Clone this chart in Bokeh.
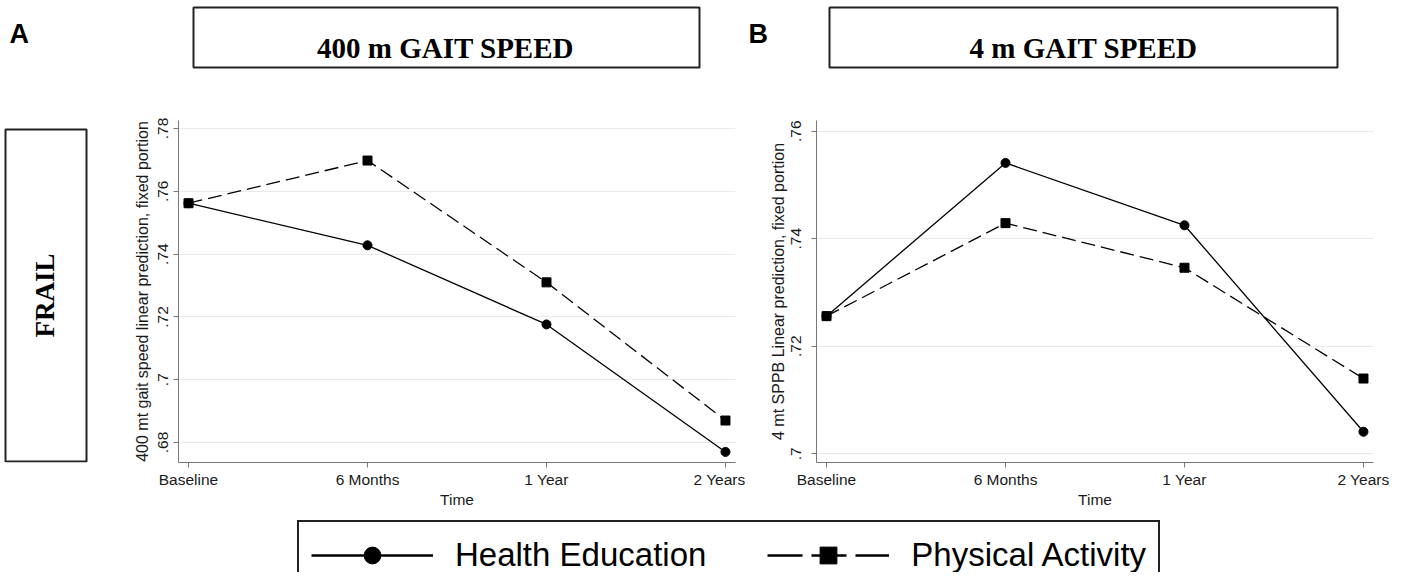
import math
from bokeh.plotting import figure
from bokeh.layouts import column, row
from bokeh.models import Range1d, FixedTicker, Legend, LegendItem
from bokeh.core.properties import value
from bokeh.embed import file_html
from bokeh.resources import INLINE

# ---------------- data ----------------
time_labels = ["Baseline", "6 Months", "1 Year", "2 Years"]

gait400_health = [0.7562, 0.7428, 0.7176, 0.6770]
gait400_activity = [0.7562, 0.7698, 0.7310, 0.6870]

gait4_health = [0.7256, 0.7541, 0.7425, 0.7041]
gait4_activity = [0.7256, 0.7429, 0.7346, 0.7140]

yticks_400 = [0.68, 0.70, 0.72, 0.74, 0.76, 0.78]
ylabels_400 = [".68", ".7", ".72", ".74", ".76", ".78"]
yticks_4 = [0.70, 0.72, 0.74, 0.76]
ylabels_4 = [".7", ".72", ".74", ".76"]

panel_letters = ["A", "B"]
panel_titles = ["400 m GAIT SPEED", "4 m GAIT SPEED"]
row_label = "FRAIL"
series_names = ["Health Education", "Physical Activity"]
ylabel_400 = "400 mt gait speed linear prediction, fixed portion"
ylabel_4 = "4 mt SPPB Linear prediction, fixed portion"
xlabel = "Time"

SANS = "Liberation Sans"
SERIF = "Liberation Serif"
xpos = list(range(len(time_labels)))


def blank(width, height, xr, yr, **kw):
    p = figure(width=width, height=height, x_range=Range1d(*xr), y_range=Range1d(*yr),
               output_backend="svg", toolbar_location=None,
               x_axis_location=None, y_axis_location=None, min_border=0, **kw)
    p.grid.visible = False
    p.outline_line_color = None
    return p


# ---------------- header (pixel canvas) ----------------
header = blank(1391, 112, (0, 1391), (112, 0))
header.quad(left=[193, 829], right=[699, 1337], top=[7, 7], bottom=[67, 67],
            fill_color=None, line_color="#222222", line_width=2)
header.text(x=[445, 1083], y=[47, 47], text=panel_titles,
            text_font=value(SERIF), text_font_style="bold", text_font_size="29px",
            text_align="center", text_baseline="alphabetic", text_color="black")
header.text(x=[9, 748], y=[33, 33], text=panel_letters,
            text_font=value(SANS), text_font_style="bold", text_font_size="27px",
            text_align="left", text_baseline="alphabetic", text_color="black")

# ---------------- FRAIL (pixel canvas, frame aligned with panels) ----------------
frail = blank(100, 403, (0, 100), (462, 120))
frail.min_border_top = 8
frail.min_border_bottom = 53
frail.quad(left=[5], right=[86], top=[129], bottom=[461],
           fill_color=None, line_color="#222222", line_width=2)
frail.text(x=[44], y=[295], text=[row_label], angle=math.pi / 2,
           text_font=value(SERIF), text_font_style="bold", text_font_size="27px",
           text_align="center", text_baseline="middle", text_color="black")


# ---------------- panels ----------------
def panel(width, height, yr, mbl, mbr, health, activity, yticks, ylabels, ylab,
          lab_standoff, axlab_standoff):
    p = figure(width=width, height=height, x_range=Range1d(-0.056, 3.056), y_range=Range1d(*yr),
               output_backend="svg", toolbar_location=None,
               min_border_left=mbl, min_border_right=mbr, min_border_top=8, min_border_bottom=53)
    p.outline_line_color = None
    p.xgrid.visible = False
    p.ygrid.ticker = FixedTicker(ticks=yticks)
    p.ygrid.grid_line_color = "#e9e9e9"
    p.ygrid.grid_line_width = 1

    p.xaxis.ticker = FixedTicker(ticks=xpos)
    p.xaxis.major_label_overrides = {x: l for x, l in zip(xpos, time_labels)}
    p.yaxis.ticker = FixedTicker(ticks=yticks)
    p.yaxis.major_label_overrides = {t: l for t, l in zip(yticks, ylabels)}
    p.yaxis.major_label_orientation = "vertical"

    for ax in (p.xaxis[0], p.yaxis[0]):
        ax.axis_line_color = "#777777"
        ax.major_tick_line_color = "#777777"
        ax.major_tick_out = 5
        ax.major_tick_in = 0
        ax.minor_tick_line_color = None
        ax.major_label_text_font = SANS
        ax.major_label_text_font_size = "15.5px"
        ax.major_label_text_color = "#1a1a1a"
        ax.axis_label_text_font = SANS
        ax.axis_label_text_font_style = "normal"
        ax.axis_label_text_color = "#1a1a1a"
    p.xaxis.axis_label = xlabel
    p.xaxis.axis_label_text_font_size = "15.5px"
    p.xaxis.major_label_standoff = 3
    p.xaxis.axis_label_standoff = 0
    p.yaxis.axis_label = ylab
    p.yaxis.axis_label_text_font_size = "16px"
    p.yaxis.major_label_standoff = lab_standoff
    p.yaxis.axis_label_standoff = axlab_standoff

    p.line(xpos, activity, line_color="black", line_width=1.3, line_dash="14 6")
    p.scatter(xpos, activity, marker="square", size=9, color="black")
    p.line(xpos, health, line_color="black", line_width=1.3)
    p.scatter(xpos, health, marker="circle", size=9, color="black")
    return p


pA = panel(645, 403, (0.67363, 0.78255), 78, 10,
           gait400_health, gait400_activity, yticks_400, ylabels_400, ylabel_400, 5, 5)
pB = panel(646, 403, (0.69838, 0.76199), 71, 18,
           gait4_health, gait4_activity, yticks_4, ylabels_4, ylabel_4, 10, 2)

# ---------------- legend ----------------
leg = blank(1391, 57, (0, 1391), (572, 515))
# legend renderers carry the series data, which lies outside this canvas' ranges
l1 = leg.line(xpos, gait400_health, line_color="black", line_width=2.5)
m1 = leg.scatter(xpos, gait400_health, marker="circle", color="black")
l2 = leg.line(xpos, gait400_activity, line_color="black", line_width=2.5, line_dash="35 9")
m2 = leg.scatter(xpos, gait400_activity, marker="square", color="black")
legend = Legend(items=[LegendItem(label=series_names[0], renderers=[l1, m1]),
                       LegendItem(label=series_names[1], renderers=[l2, m2])],
                orientation="horizontal", location=(297, -18),
                glyph_width=122, glyph_height=42, label_standoff=22, spacing=61,
                padding=12, margin=0, border_line_color="#222222", border_line_width=2,
                border_line_alpha=1.0,
                label_text_font=SANS, label_text_font_size="33px", label_text_color="black",
                background_fill_color="white", background_fill_alpha=1)
leg.add_layout(legend)

layout = column(header, row(frail, pA, pB), leg)
open("out.html", "w").write(file_html(layout, INLINE))
